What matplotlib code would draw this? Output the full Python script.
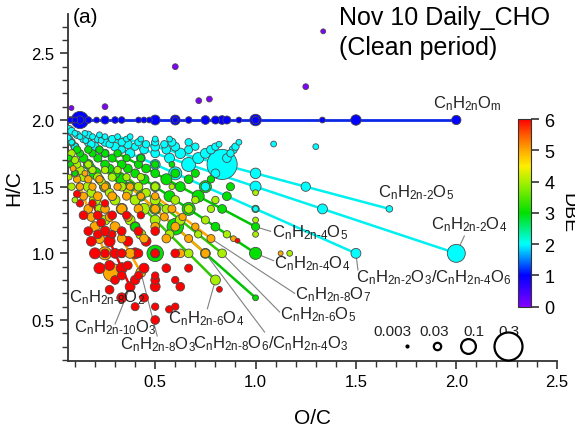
import numpy as np
import matplotlib
matplotlib.use('Agg')
import matplotlib.pyplot as plt
from matplotlib.colors import LinearSegmentedColormap, Normalize
from matplotlib.cm import ScalarMappable

plt.rcParams['font.family'] = ['Liberation Sans', 'DejaVu Sans']
plt.rcParams['mathtext.fontset'] = 'custom'
plt.rcParams['mathtext.rm'] = 'Liberation Sans'
plt.rcParams['mathtext.it'] = 'Liberation Sans'
plt.rcParams['mathtext.bf'] = 'Liberation Sans:bold'

# ---- data -------------------------------------------------------------
# CnH2nOm (DBE 1), all on H/C = 2
dbe1_oc = [0.067, 0.075, 0.083, 0.1, 0.125, 0.125, 0.167, 0.208, 0.25, 0.3, 0.333, 0.417,
           0.444, 0.471, 0.5, 0.6, 0.6, 0.667, 0.75, 0.8, 0.833, 0.857, 0.917, 1.0, 1.0,
           1.333, 1.5, 2.0]
dbe1_ab = [0.025, 0.02, 0.025, 0.02, 0.13, 0.035, 0.025, 0.02, 0.035, 0.025, 0.025, 0.02,
           0.02, 0.02, 0.05, 0.05, 0.02, 0.025, 0.04, 0.035, 0.04, 0.035, 0.02, 0.065,
           0.03, 0.02, 0.055, 0.045]

# homologous series CnH(2n-k)Om : oxygen number m, carbon numbers n, relative abundance
k2_m = [1, 2, 3, 4, 5, 6, 7, 8, 9]
k2_n = [[10, 12, 14, 15],
        [8, 9, 10, 11, 12, 13, 14, 16, 18, 20, 24, 28],
        [2, 3, 4, 5, 6, 7, 8, 9, 10, 11, 12, 13, 14, 16, 18, 20],
        [2, 3, 4, 5, 6, 7, 8, 9, 10, 11, 12, 14, 16, 18],
        [3, 4, 5, 6, 7, 8, 9, 10, 11, 12, 14, 16],
        [7, 8, 9, 10, 11, 12, 14, 16],
        [8, 9, 10, 12, 14],
        [9, 10, 12, 14],
        [10, 11]]
k2_ab = [[0.03, 0.02, 0.03, 0.02],
         [0.035, 0.03, 0.04, 0.03, 0.035, 0.02, 0.03, 0.02, 0.03, 0.02, 0.03, 0.035],
         [0.05, 0.02, 0.04, 0.08, 0.05, 0.04, 0.045, 0.03, 0.04, 0.03, 0.035, 0.02, 0.03, 0.02, 0.03, 0.02],
         [0.14, 0.05, 0.06, 0.04, 0.09, 0.05, 0.04, 0.04, 0.03, 0.04, 0.03, 0.03, 0.02, 0.02],
         [0.025, 0.045, 0.055, 0.34, 0.06, 0.055, 0.04, 0.04, 0.03, 0.03, 0.02, 0.02],
         [0.04, 0.05, 0.035, 0.04, 0.03, 0.03, 0.02, 0.02],
         [0.03, 0.04, 0.03, 0.035, 0.02],
         [0.035, 0.03, 0.03, 0.02],
         [0.03, 0.02]]

k4_m = [1, 2, 3, 4, 5, 6, 7]
k4_n = [[8, 10, 12, 14],
        [4, 5, 6, 7, 8, 9, 10, 11, 12, 14, 16, 18, 20, 24],
        [3, 4, 5, 6, 7, 8, 9, 10, 11, 12, 14, 16, 18],
        [4, 5, 6, 7, 8, 9, 10, 11, 12, 14, 16, 18],
        [5, 6, 7, 8, 9, 10, 11, 12, 14, 16],
        [6, 7, 8, 9, 10, 12, 14],
        [8, 9, 10, 12]]
k4_ab = [[0.03, 0.02, 0.03, 0.02],
         [0.12, 0.04, 0.05, 0.04, 0.06, 0.04, 0.07, 0.04, 0.05, 0.04, 0.03, 0.03, 0.035, 0.03],
         [0.02, 0.05, 0.12, 0.06, 0.05, 0.05, 0.06, 0.05, 0.04, 0.04, 0.035, 0.03, 0.03],
         [0.07, 0.04, 0.08, 0.06, 0.05, 0.05, 0.04, 0.04, 0.04, 0.035, 0.03, 0.03],
         [0.035, 0.04, 0.07, 0.05, 0.06, 0.04, 0.04, 0.035, 0.03, 0.03],
         [0.03, 0.04, 0.07, 0.04, 0.04, 0.03, 0.03],
         [0.035, 0.03, 0.035, 0.02]]

k6_m = [1, 2, 3, 4, 5, 6, 7, 8]
k6_n = [[10, 12, 14],
        [6, 7, 8, 9, 10, 11, 12, 14, 16, 18, 20, 24],
        [6, 7, 8, 9, 10, 11, 12, 13, 14, 16, 18],
        [5, 6, 7, 8, 9, 10, 11, 12, 14, 16],
        [6, 7, 8, 9, 10, 11, 12, 14, 16],
        [7, 8, 9, 10, 12, 14],
        [7, 9, 10, 12],
        [8, 10]]
k6_ab = [[0.02, 0.03, 0.02],
         [0.04, 0.03, 0.05, 0.04, 0.06, 0.04, 0.05, 0.04, 0.04, 0.03, 0.03, 0.03],
         [0.04, 0.05, 0.05, 0.06, 0.05, 0.04, 0.05, 0.035, 0.04, 0.03, 0.03],
         [0.05, 0.04, 0.04, 0.05, 0.06, 0.05, 0.04, 0.04, 0.035, 0.03],
         [0.04, 0.03, 0.05, 0.04, 0.05, 0.04, 0.04, 0.03, 0.03],
         [0.03, 0.035, 0.04, 0.04, 0.035, 0.03],
         [0.02, 0.03, 0.03, 0.02],
         [0.02, 0.03]]

k8_m = [2, 3, 4, 5, 6, 7]
k8_n = [[7, 8, 9, 10, 11, 12, 14, 16, 18, 20, 22],
        [7, 8, 9, 10, 11, 12, 14, 16, 18, 20],
        [8, 9, 10, 11, 12, 14, 16, 18],
        [8, 9, 10, 12, 14, 16],
        [8, 9, 10, 11, 12, 14, 16],
        [9, 10, 11, 12, 14]]
k8_ab = [[0.14, 0.08, 0.05, 0.05, 0.04, 0.04, 0.035, 0.03, 0.03, 0.03, 0.02],
         [0.05, 0.05, 0.04, 0.05, 0.04, 0.04, 0.04, 0.03, 0.03, 0.02],
         [0.04, 0.04, 0.05, 0.04, 0.05, 0.04, 0.03, 0.03],
         [0.04, 0.04, 0.04, 0.04, 0.035, 0.03],
         [0.04, 0.035, 0.04, 0.035, 0.04, 0.03, 0.03],
         [0.035, 0.03, 0.03, 0.035, 0.03]]

k10_m = [2, 3, 4, 5, 6]
k10_n = [[9, 10, 11, 12, 14, 16, 18],
         [8, 9, 10, 11, 12, 13, 14, 16],
         [8, 9, 10, 11, 12, 14, 16],
         [8, 9, 10, 11, 12, 14],
         [9, 10, 12, 14]]
k10_ab = [[0.06, 0.06, 0.05, 0.04, 0.04, 0.03, 0.03],
          [0.05, 0.06, 0.05, 0.06, 0.05, 0.04, 0.04, 0.03],
          [0.05, 0.05, 0.06, 0.05, 0.04, 0.04, 0.03],
          [0.04, 0.04, 0.04, 0.05, 0.04, 0.035],
          [0.035, 0.04, 0.04, 0.03]]

k12_m = [3, 4, 5, 6]
k12_n = [[9, 10, 11, 12, 14], [8, 9, 10, 11, 12, 14], [10, 12], [10, 12]]
k12_ab = [[0.05, 0.04, 0.05, 0.04, 0.04], [0.04, 0.04, 0.045, 0.04, 0.04, 0.03],
          [0.04, 0.04], [0.03, 0.035]]

k14_m = [3, 4, 5, 6]
k14_n = [[11], [10, 12], [10, 12], [10, 12]]
k14_ab = [[0.04], [0.035, 0.04], [0.03, 0.035], [0.03, 0.03]]

extra_oc = [0.083, 0.25, 0.6, 0.717, 0.77, 1.25, 1.337, 1.09, 1.3, 0.917, 1.0, 1.125, 1.17,
            0.82, 0.91, 0.89, 0.57]
extra_hc = [2.09, 2.1, 2.4, 2.145, 2.157, 2.25, 2.665, 1.82, 1.8, 1.833, 1.455, 1.0, 1.0,
            0.73, 1.095, 1.11, 0.58]
extra_dbe = [0, 0, 0, 0, 0, 0, 0, 2, 2, 2, 4, 5, 4, 6, 6, 5, 6]
extra_ab = [0.015, 0.02, 0.02, 0.02, 0.02, 0.02, 0.015, 0.02, 0.02, 0.02, 0.02,
            0.015, 0.02, 0.02, 0.015, 0.02, 0.03]

# series drawn as connected lines (k, m)
line_series = [(2, 3), (2, 4), (2, 5), (4, 3), (4, 4), (4, 5), (6, 4), (6, 5),
               (8, 2), (8, 3), (8, 6), (8, 7), (10, 3)]
line_color = {2: '#00f0f0', 4: '#00c400', 6: '#2fc800', 8: '#ffa500', 10: '#f00000'}

legend_ab = [0.003, 0.03, 0.1, 0.3]
legend_txt = ['0.003', '0.03', '0.1', '0.3']

# ---- helpers ------------------------------------------------------------
cmap = LinearSegmentedColormap.from_list('dbe', [
    (0 / 6, '#8000ff'), (1 / 6, '#0000ff'), (2 / 6, '#00ffff'), (3 / 6, '#00e000'),
    (4 / 6, '#a8f000'), (4.5 / 6, '#ffee00'), (5 / 6, '#ffaa00'), (5.5 / 6, '#ff5a00'),
    (6 / 6, '#ff0000')])
norm = Normalize(0, 6)


def msize(ab):
    d_px = 28 * (np.asarray(ab) / 0.3) ** 0.58
    return (d_px * 0.72) ** 2


groups = [(2, k2_m, k2_n, k2_ab), (4, k4_m, k4_n, k4_ab), (6, k6_m, k6_n, k6_ab),
          (8, k8_m, k8_n, k8_ab), (10, k10_m, k10_n, k10_ab), (12, k12_m, k12_n, k12_ab),
          (14, k14_m, k14_n, k14_ab)]

xs, ys, cs, ss = [], [], [], []
series_xy = {}
for k, ms, nss, abss in groups:
    for m, ns, abs_ in zip(ms, nss, abss):
        ns = np.array(ns, dtype=float)
        oc = m / ns
        hc = (2 * ns - k) / ns
        series_xy[(k, m)] = (oc, hc)
        xs += list(oc); ys += list(hc)
        cs += [1 + k / 2] * len(ns); ss += list(abs_)
xs += dbe1_oc; ys += [2.0] * len(dbe1_oc); cs += [1] * len(dbe1_oc); ss += dbe1_ab
xs += extra_oc; ys += extra_hc; cs += extra_dbe; ss += extra_ab

xs = np.array(xs); ys = np.array(ys); cs = np.clip(np.array(cs, float), 0, 6)
ss = np.array(ss)
order = np.argsort(-ss, kind='stable')

# ---- figure ------------------------------------------------------------
fig = plt.figure(figsize=(5.75, 4.31), dpi=100)
ax = fig.add_axes([0.1177, 0.1608, 0.8504, 0.8044])

ax.plot(sorted(dbe1_oc), [2.0] * len(dbe1_oc), color='#0a28e6', lw=2, zorder=1)
for k, m in line_series:
    oc, hc = series_xy[(k, m)]
    ax.plot(oc, hc, color=line_color[k], lw=1.8, zorder=1)

ax.scatter(xs[order], ys[order], s=msize(ss[order]), c=cmap(norm(cs[order])),
           edgecolors='#4a4a4a', linewidths=0.6, zorder=3)

# labels with leader lines
def f(h, o):
    return r'C$_{n}$H$_{' + h + r'}$O$_{' + o + r'}$'

labels = [
    (f('2n', 'm'), (1.885, 2.128), None, None),
    (f(r'2n\text{-}2', '5'), (1.61, 1.46), None, None),
    (f(r'2n\text{-}2', '4'), (1.875, 1.22), (2.0, 1.0), (2.04, 1.13)),
    (f(r'2n\text{-}2', '3') + '/' + f(r'2n\text{-}4', '6'), (1.5, 0.822), (1.5, 1.0), (1.51, 0.875)),
    (f(r'2n\text{-}4', '5'), (1.08, 1.16), (1.0, 1.2), (1.075, 1.165)),
    (f(r'2n\text{-}4', '4'), (1.09, 0.927), (1.0, 1.0), (1.09, 0.945)),
    (f(r'2n\text{-}8', '7'), (1.195, 0.695), (0.778, 1.111), (1.195, 0.70)),
    (f(r'2n\text{-}6', '5'), (1.12, 0.545), (0.833, 1.0), (1.12, 0.56)),
    (f(r'2n\text{-}6', '4'), (0.565, 0.515), (0.8, 0.8), (0.76, 0.585)),
    (f(r'2n\text{-}8', '6') + '/' + f(r'2n\text{-}4', '3'), (0.69, 0.327), (0.75, 1.0), (1.045, 0.41)),
    (f(r'2n\text{-}8', '3'), (0.325, 0.32), (0.4286, 0.857), (0.51, 0.38)),
    (f(r'2n\text{-}10', '3'), (0.095, 0.447), (0.375, 0.75), (0.30, 0.47)),
    (f(r'2n\text{-}8', '2'), (0.07, 0.672), None, None),
]
for txt, pos, p0, p1 in labels:
    ax.text(pos[0], pos[1], txt, fontsize=12, color='#222222', ha='left', va='center', zorder=5)
    if p0 is not None:
        ax.plot([p0[0], p1[0]], [p0[1], p1[1]], color='#808080', lw=0.8, zorder=2)

# size legend
leg_x = [1.755, 1.905, 2.06, 2.26]
leg_tx = [1.683, 1.89, 2.088, 2.26]
for x, tx, ab, t in zip(leg_x, leg_tx, legend_ab, legend_txt):
    fc = 'black' if ab < 0.01 else 'white'
    ax.scatter([x], [0.305], s=msize(ab), facecolors=fc, edgecolors='black', linewidths=1.6,
               zorder=4, clip_on=False)
    ax.text(tx, 0.418, t, fontsize=11, ha='center', va='center', color='#222222', zorder=3)

ax.set_xlim(0.064, 2.5)
ax.set_ylim(0.195, 2.795)
ax.set_xticks([0.5, 1.0, 1.5, 2.0, 2.5])
ax.set_yticks([0.5, 1.0, 1.5, 2.0, 2.5])
ax.set_xticks(np.arange(0.1, 2.5, 0.1), minor=True)
ax.set_yticks(np.arange(0.2, 2.8, 0.1), minor=True)
for side in ['top', 'right']:
    ax.spines[side].set_visible(False)
for side in ['left', 'bottom']:
    ax.spines[side].set_color('#333333')
    ax.spines[side].set_linewidth(1.3)
ax.tick_params(which='major', direction='out', length=6, width=1.2, labelsize=12, color='#333333')
ax.tick_params(which='minor', direction='out', length=4, width=1.0, color='#333333')
ax.set_xlabel('O/C', fontsize=15, labelpad=14)
ax.set_ylabel('H/C', fontsize=15, labelpad=6)

fig.text(0.127, 0.96, '(a)', fontsize=15, ha='left', va='center')
fig.text(0.59, 0.985, 'Nov 10 Daily_CHO\n(Clean period)', fontsize=18, ha='left', va='top',
         linespacing=1.3)

# colour bar
cax = fig.add_axes([0.901, 0.286, 0.0226, 0.4355])
cb = fig.colorbar(ScalarMappable(norm=norm, cmap=cmap), cax=cax, ticks=range(7))
cb.outline.set_edgecolor('#333333')
cb.ax.tick_params(length=6, width=1.2, labelsize=13, color='#333333')
fig.text(0.972, 0.505, 'DBE', fontsize=14, rotation=270, ha='left', va='center')

fig.savefig('out.png', dpi=100)
